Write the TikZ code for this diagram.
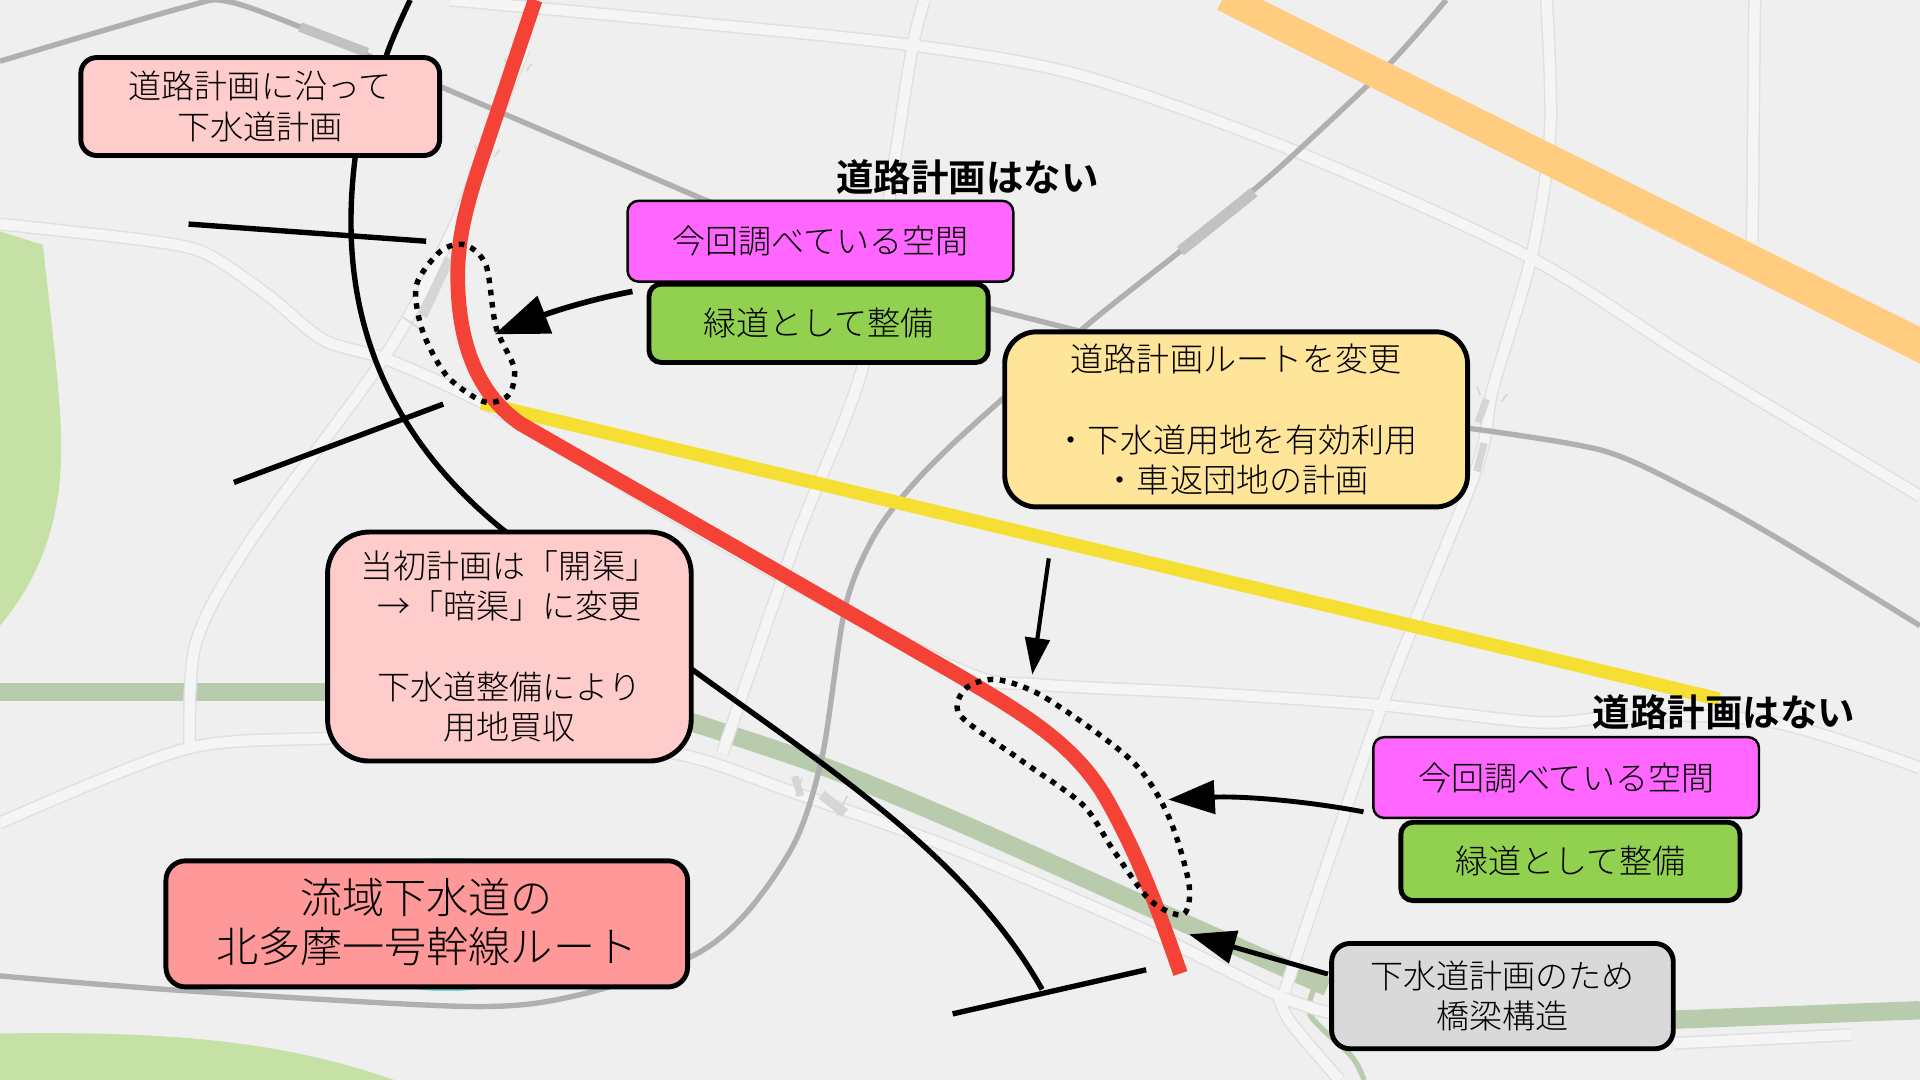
\documentclass[tikz,border=0pt]{standalone}
\usepackage{fontspec}
\setmainfont{Noto Sans CJK JP Light}[BoldFont={Noto Sans CJK JP Bold}]
\usetikzlibrary{arrows.meta}
\definecolor{mapbg}{HTML}{EFEFEF}
\definecolor{parkgreen}{HTML}{C5E1A5}
\definecolor{bandgreen}{HTML}{B9CBAD}
\definecolor{roadedge}{HTML}{E0E0E0}
\definecolor{roadfill}{HTML}{F5F5F5}
\definecolor{railgrey}{HTML}{B0B0B0}
\definecolor{bridgegrey}{HTML}{C2C2C2}
\definecolor{roadbridge}{HTML}{D6D6D6}
\definecolor{orangeband}{HTML}{FFCC80}
\definecolor{yellowroute}{HTML}{F6DF33}
\definecolor{redroute}{HTML}{F44336}
\definecolor{pondcyan}{HTML}{80DEDD}
\definecolor{boxpink}{HTML}{FFCCCC}
\definecolor{boxred}{HTML}{FF9999}
\definecolor{boxmagenta}{HTML}{FF66FF}
\definecolor{boxgreen}{HTML}{92D14F}
\definecolor{boxyellow}{HTML}{FFE599}
\definecolor{boxgrey}{HTML}{D9D9D9}
\tikzset{
  notebox/.style={draw=black, line width=2pt, align=center, inner sep=0pt, text=black,
    font=\fontsize{13.5}{16.5}\selectfont},
  surveybox/.style={notebox, fill=boxmagenta, line width=1pt, rounded corners=4.5pt,
    minimum width=157.5pt, minimum height=33pt},
  greenbox/.style={notebox, fill=boxgreen, rounded corners=5pt,
    minimum width=138.5pt, minimum height=32pt},
  notroad/.style={inner sep=0pt, font=\fontsize{15.3}{18}\selectfont\bfseries},
  bigarrow/.style={-{Triangle[length=19pt,width=13.5pt]}, line width=2pt},
  crossline/.style={black, line width=2.2pt},
  dottedloop/.style={black, line width=2.2pt, dash pattern=on 2.3pt off 2.7pt},
  rail/.style={railgrey, line width=2.2pt}
}
\def\roadnet{
  plot[smooth] coordinates {(368,0) (560,18) (745,37) (884,62) (1059,124) (1249,210) (1384,295) (1568,405)}
  plot[smooth] coordinates {(755,0) (745,39) (730,135) (705,298) (650,441) (590,615)}
  plot[smooth] coordinates {(0,183) (125,197) (170,208) (220,242) (265,278) (320,295) (415,340) (600,450) (784,547) (849,559) (984,566) (1129,576) (1259,590) (1334,584) (1450,590) (1568,627)}
  plot[smooth] coordinates {(155,612) (160,525) (205,441) (315,290) (372,183) (400,110) (428,40)}
  plot[smooth] coordinates {(0,672) (150,612) (265,603) (400,600) (550,615) (645,646) (784,695) (934,759) (1044,813) (1089,828)}
  plot[smooth] coordinates {(1044,813) (1054,835) (1094,882)}
  plot coordinates {(1367,852) (1512,845)}
  plot[smooth] coordinates {(1263,0) (1266,107) (1251,208) (1219,318) (1205,385) (1129,575) (1049,810)}
  plot coordinates {(1433,0) (1431,197)}
}
\begin{document}
\begin{tikzpicture}[x=0.5pt,y=-0.5pt]
\useasboundingbox (0,0) rectangle (1568,882);
\fill[mapbg] (0,0) rectangle (1568,882);
% map
\fill[parkgreen] (0,189) -- (35,200) .. controls (44,280) and (50,330) .. (50,366) .. controls (50,430) and (30,475) .. (0,511) -- cycle;
\fill[parkgreen] (0,844) .. controls (140,842) and (230,850) .. (322,882) -- (0,882) -- cycle;
\fill[pondcyan] (365,755) circle [x radius=100, y radius=54.5];
\draw[bandgreen, line width=7.5pt] plot[smooth] coordinates {(0,565) (265,565)};
\draw[bandgreen, line width=7.5pt] plot[smooth] coordinates {(550,585) (670,625) (784,672) (934,739) (1084,806)};
\draw[bandgreen, line width=7.5pt] (1360,833) -- (1568,825);
\draw[bandgreen, line width=2.2pt] plot[smooth] coordinates {(1074,806) (1070,829) (1104,863) (1114,882)};
\foreach \c/\w in {roadedge/5.4pt, roadfill/4.2pt} {
\draw[\c, line width=\w] \roadnet;
}
\draw[roadbridge, line width=3pt] (1214,326) -- (1207,345);
\draw[roadbridge, line width=3pt] (1212,362) -- (1206,385);
\draw[roadbridge, line width=3pt] (649,634) -- (654,650);
\draw[roadbridge, line width=4pt] (671,649) -- (690,664);
\draw[roadbridge, line width=4pt] (345,258) -- (367,211);
\foreach \a/\b/\c/\d in {412/48/415/56, 434/52/430/58, 388/118/390/126, 408/122/404/128, 1206/315/1209/323, 1231/322/1226/328, 329/259/345/270, 655/635/650/650, 692/650/684/666} {
\draw[roadbridge, line width=0.6pt] (\a,\b) -- (\c,\d);
}
\draw[rail] plot[smooth] coordinates {(0,50) (150,6) (185,1) (245,22) (365,73) (575,163)};
\draw[rail] (575,163) -- (809,252) -- (880,270) -- (1201,350);
\draw[rail] plot[smooth] coordinates {(1201,350) (1309,368) (1384,402) (1454,441) (1568,511)};
\draw[rail] plot[smooth] coordinates {(0,797) (150,809) (385,822) (475,812) (565,781) (610,745) (650,686) (672,615) (690,497) (712,441) (740,402) (784,357) (886,267) (964,205) (1024,155) (1059,124) (1134,53) (1181,0)};
\draw[bridgegrey, line width=4pt] (245,22) -- (300,43);
\draw[bridgegrey, line width=4.5pt] (964,205) -- (1024,157);
\fill[orangeband] (998,0) -- (1031,0) -- (1568,267) -- (1568,297) -- (994,8) -- cycle;
% routes
\draw[yellowroute, line width=5.5pt] (393,329) -- (1404,571);
\draw[black, line width=2.2pt] plot[smooth] coordinates {(335,0) (316,44) (290,129)} .. controls (280,210) and (285,330) .. (410,432) -- (567,548) .. controls (680,630) and (790,700) .. (851,808);
\draw[crossline] (154,183) -- (348,197);
\draw[crossline] (191,394) -- (362,330);
\draw[crossline] (778,828) -- (936,792);
\draw[redroute, line width=6pt] (437,0) -- (400,110) .. controls (385,155) and (372,190) .. (374,235) .. controls (376,290) and (395,325) .. (425,346) -- (780,550) .. controls (840,585) and (880,610) .. (905,655) .. controls (930,700) and (945,740) .. (964,795);
\draw[dottedloop] plot[smooth cycle] coordinates {(380,200) (397,217) (405,267) (420,301) (415,323) (395,328) (365,307) (345,270) (340,233) (360,205)};
\draw[dottedloop] plot[smooth cycle] coordinates {(814,555) (854,570) (924,621) (954,666) (971,722) (966,747) (939,735) (909,694) (884,657) (834,621) (784,584) (789,562)};
% boxes
\node[notebox, fill=boxpink, rounded corners=6.5pt, minimum width=146.5pt, minimum height=40pt] (sewerplan) at (212.5,87) {道路計画に沿って\\下水道計画};
\node[surveybox] (surveyA) at (670,197) {今回調べている空間};
\node[greenbox] (greenA) at (668.5,264) {緑道として整備};
\node[notebox, fill=boxyellow, rounded corners=13pt, minimum width=189pt, minimum height=71.5pt] (routechange) at (1009.5,342.5) {道路計画ルートを変更\\\mbox{}\\・下水道用地を有効利用\\・車返団地の計画};
\node[notebox, fill=boxpink, rounded corners=17pt, minimum width=148.5pt, minimum height=93.5pt] (firstplan) at (416,528) {当初計画は「開渠」\\→「暗渠」に変更\\\mbox{}\\下水道整備により\\用地買収};
\node[notebox, fill=boxred, rounded corners=8pt, minimum width=213pt, minimum height=51.5pt, font=\fontsize{17.2}{20}\selectfont] (mainline) at (348.5,754.5) {流域下水道の\\北多摩一号幹線ルート\rule[-3pt]{0pt}{1pt}};
\node[surveybox] (surveyB) at (1279,635) {今回調べている空間};
\node[greenbox] (greenB) at (1282.5,703.5) {緑道として整備};
\node[notebox, fill=boxgrey, rounded corners=7.5pt, minimum width=139.5pt, minimum height=43pt] (bridgenote) at (1227,813.5) {下水道計画のため\\橋梁構造};
\node[notroad] (noplanA) at (790,145) {道路計画はない};
\node[notroad] (noplanB) at (1408,582) {道路計画はない};
% arrows
\coordinate (spotA) at (404,273);
\coordinate (spotB) at (954,653);
\coordinate (spotC) at (843,551);
\coordinate (spotD) at (971,763);
\draw[-{Triangle[length=22pt,width=16pt]}, line width=2.3pt] ([shift={(5,7)}]surveyA.south west) .. controls (480,245) and (450,255) .. (spotA);
\draw[bigarrow] ([shift={(-7,-6)}]surveyB.south west) .. controls (1060,653) and (1010,650) .. (spotB);
\draw[-{Triangle[length=15pt,width=10pt]}, line width=1.7pt] ([shift={(38,40)}]routechange.south west) -- (spotC);
\draw[bigarrow] ([shift={(-1,-18)}]bridgenote.west) -- (spotD);
\end{tikzpicture}
\end{document}
